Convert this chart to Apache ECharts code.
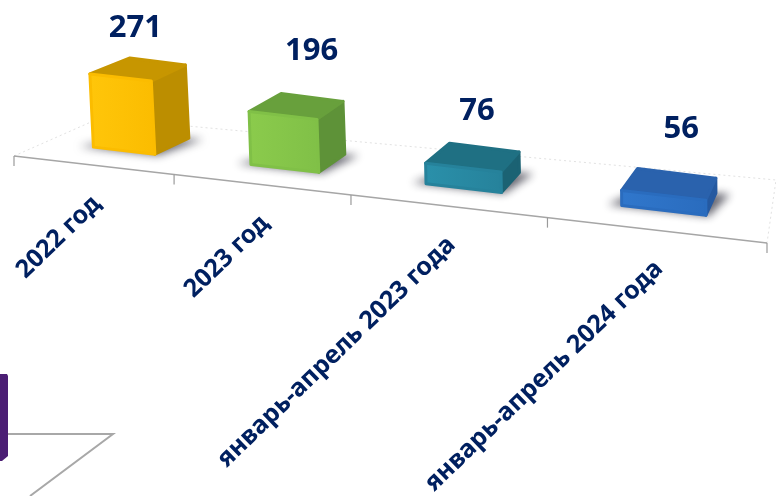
<!DOCTYPE html>
<html><head><meta charset="utf-8">
<script src="https://cdn.jsdelivr.net/npm/echarts@6/dist/echarts.min.js"></script>
<style>html,body{margin:0;padding:0;background:#fff}#c{width:776px;height:496px}</style>
</head><body><div id="c"></div>
<script>
const categories = ['2022 год', '2023 год', 'январь-апрель 2023 года', 'январь-апрель 2024 года'];
const values = [271, 196, 76, 56];

// styling, kept apart from the data
const faces = [
  {front:['#FFC60A','#FBBC00'], top:'#C79600', right:'#BC8E00'},
  {front:['#8BCB4C','#80C047'], top:'#68A03C', right:'#5E9238'},
  {front:['#2A90AA','#26829B'], top:'#1F7083', right:'#1B6273'},
  {front:['#3077CC','#2A6CBE'], top:'#2A62AD', right:'#2559A0'}
];
const labelNudge = [[-19,-33],[3,-46],[-4,-36],[8,-44]];
const TEXT = '#002060', FONT = '"Noto Sans", sans-serif', GRID = {left:14, width:753, top:100, height:270};

// perspective of the floor plane: u along the axis 0..1
function tOf(u){ const a = 0.81; return a*u/(1+(a-1)*u); }
function front(u){ const t = tOf(u); return [14+753*t, 156+87*t]; }
function rowOffset(u){ return [35.5-30*u, -13.5-7*u]; }
function barDepth(u){ return [40-32*u, -15-8*u]; }
function floorDepth(u){ return [86-77*u, -38-25*u]; }
const half = 0.048;
function P(u, d, h, uc){
  const f = front(u), o = rowOffset(uc), b = barDepth(uc);
  const lean = -0.055*(1-uc)*h;
  const conv = u < uc ? 4 : -2;
  return [f[0]+o[0]+d*(b[0]+conv)+lean, f[1]+o[1]+d*b[1]-h];
}

function renderBar(params, api){
  const i = api.value(0), v = api.value(1);
  const cs = params.coordSys;
  const uc = (api.coord([i,0])[0]-cs.x)/cs.width;
  const h = api.size([0,v])[1];
  const a = uc-half, b = uc+half;
  const FL=P(a,0,0,uc), FR=P(b,0,0,uc), BR=P(b,1,0,uc), BL=P(a,1,0,uc);
  const TFL=P(a,0,h,uc), TFR=P(b,0,h,uc), TBR=P(b,1,h,uc), TBL=P(a,1,h,uc);
  const c = faces[i];
  const poly = (pts, fill) => ({type:'polygon', shape:{points:pts},
    style:{fill, stroke: typeof fill==='string'?fill:c.front[1], lineWidth:3, lineJoin:'round'}});
  const OFF = 3000;
  const shadow = {type:'polygon', shape:{points:[[FL[0]-14-OFF,FL[1]-1],[FR[0]+3-OFF,FR[1]+1],[BR[0]+14-OFF,BR[1]+1],[BL[0]+4-OFF,BL[1]+6]]},
    style:{fill:'#888', shadowBlur:9, shadowColor:'rgba(95,95,105,0.95)', shadowOffsetX:OFF}};
  const top = P(uc,1,h,uc), nd = labelNudge[i], lab = [top[0]+nd[0], top[1]+nd[1]];
  const ac = front(uc);
  return {type:'group', children:[
    shadow,
    poly([FR,BR,TBR,TFR], c.right),
    poly([TFL,TFR,TBR,TBL], c.top),
    poly([FL,FR,TFR,TFL], {type:'linear',x:0,y:0,x2:1,y2:0,colorStops:[{offset:0,color:c.front[0]},{offset:1,color:c.front[1]}]}),
    {type:'text', x:lab[0], y:lab[1], style:{text:String(v), fill:TEXT, font:'bold 31px '+FONT, align:'center', verticalAlign:'middle'}},
    {type:'text', x:ac[0]+5, y:ac[1]+35, rotation:44*Math.PI/180,
     style:{text:categories[i], fill:TEXT, font:'bold 25px '+FONT, align:'right', verticalAlign:'middle'}}
  ]};
}

function renderFloor(){
  const kids = [];
  const A = front(0), B = front(1);
  const bk = u => { const f=front(u), d=floorDepth(u); return [f[0]+d[0], f[1]+d[1]]; };
  const dotted = {stroke:'#E2E2E2', lineWidth:1, lineDash:[2,3]};
  kids.push({type:'polyline', shape:{points:[A,bk(0),bk(1),B]}, style:Object.assign({fill:null},dotted)});
  kids.push({type:'line', shape:{x1:A[0],y1:A[1],x2:B[0],y2:B[1]}, style:{stroke:'#A6A6A6', lineWidth:1.5}});
  for(let k=0;k<=categories.length;k++){
    const p = front(k/categories.length);
    kids.push({type:'line', shape:{x1:p[0],y1:p[1],x2:p[0],y2:p[1]+10}, style:{stroke:'#9A9A9A', lineWidth:1.2}});
  }
  return {type:'group', children:kids};
}

const chart = echarts.init(document.getElementById('c'), null, {renderer:'canvas'});
chart.setOption({
  animation:false,
  backgroundColor:'#fff',
  grid:GRID,
  xAxis:{type:'category', data:categories, show:false},
  yAxis:{type:'value', min:0, max:1000, show:false},
  graphic:[
    {type:'polyline', shape:{points:[[8,434],[113,434],[30,496]]}, style:{fill:null, stroke:'#A8A8A8', lineWidth:2}, z:1},
    {type:'polygon', shape:{points:[[0,374],[7,374],[8,376],[8,456],[2,461],[0,461]]}, style:{fill:'#4B1E74'}, z:2}
  ],
  series:[
    {type:'custom', data:[[0,0]], renderItem:renderFloor, silent:true, clip:false, z:1},
    {type:'custom', data:values.map((v,i)=>[i,v]), encode:{x:0,y:1}, renderItem:renderBar, silent:true, clip:false, z:2}
  ]
});
</script></body></html>
